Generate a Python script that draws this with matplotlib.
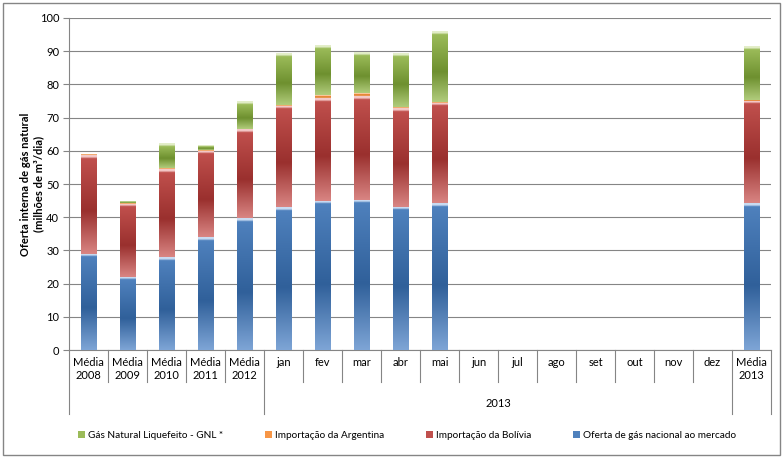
import numpy as np
import matplotlib.pyplot as plt
from matplotlib.colors import LinearSegmentedColormap
from matplotlib.patches import Rectangle, Patch
import matplotlib.transforms as mtransforms

plt.rcParams['font.family'] = ['Lato', 'DejaVu Sans']

# dados (milhões de m3/dia)
categorias = ["Média\n2008", "Média\n2009", "Média\n2010", "Média\n2011", "Média\n2012",
              "jan", "fev", "mar", "abr", "mai", "jun", "jul", "ago", "set", "out", "nov", "dez",
              "Média\n2013"]
nacional = [29.0, 22.0, 28.0, 34.0, 39.7, 43.0, 45.0, 45.2, 43.2, 44.2, 0, 0, 0, 0, 0, 0, 0, 44.2]
bolivia = [29.7, 22.0, 26.5, 26.0, 26.8, 30.5, 31.0, 31.3, 29.8, 30.3, 0, 0, 0, 0, 0, 0, 0, 30.8]
argentina = [0.2, 0.2, 0.2, 0.1, 0.2, 0.3, 0.8, 0.8, 0.3, 0.3, 0, 0, 0, 0, 0, 0, 0, 0.4]
gnl = [0.0, 0.4, 7.3, 1.4, 8.3, 15.5, 14.9, 12.2, 16.2, 21.2, 0, 0, 0, 0, 0, 0, 0, 16.1]

# (base, escuro, medio, topo claro)
series = [
    ("Oferta de gás nacional ao mercado", nacional, ("#7ea5d6", "#30609a", "#4f81bd", "#c9dbf2")),
    ("Importação da Bolívia", bolivia, ("#d98583", "#9a302e", "#c0504d", "#f4c9c8")),
    ("Importação da Argentina", argentina, ("#f9b57a", "#d9782a", "#f79646", "#fde0c4")),
    ("Gás Natural Liquefeito - GNL *", gnl, ("#b1cc7c", "#6e902f", "#9bbb59", "#e3eec9")),
]

fig = plt.figure(figsize=(7.83, 4.58), dpi=100)
ax = fig.add_axes([0.0881, 0.2358, 0.8966, 0.7249])

x = np.arange(len(categorias))
base = np.zeros(len(categorias))
handles = []
grad = np.linspace(0, 1, 256).reshape(-1, 1)
for nome, vals, (baixo, escuro, medio, claro) in series:
    barras = ax.bar(x, vals, 0.40, bottom=base, color=medio, linewidth=0, zorder=2)
    for p in barras.patches:
        h = p.get_height()
        if h <= 0:
            continue
        # faixa clara no topo com espessura fixa (~1 unidade)
        f = min(1.0 / h, 0.3)
        cmap = LinearSegmentedColormap.from_list(
            nome, [(0, baixo), (0.45 * (1 - f), escuro), (1 - f, medio),
                   (1 - f / 2, claro), (1, claro)])
        x0, y0 = p.get_x(), p.get_y()
        ax.imshow(grad, cmap=cmap, aspect='auto', zorder=3, origin='lower',
                  extent=(x0, x0 + p.get_width(), y0, y0 + h))
        p.set_visible(False)
    base = base + np.array(vals)
    handles.append(Patch(facecolor=medio, label=nome))

ax.set_xlim(-0.5, len(categorias) - 0.5)
ax.set_ylim(0, 100)
ax.set_yticks(range(0, 101, 10))
ax.grid(axis='y', color='#858585', linewidth=0.8, zorder=0)
ax.set_axisbelow(True)
for s in ['top', 'right']:
    ax.spines[s].set_visible(False)
ax.spines['left'].set_color('#858585')
ax.spines['bottom'].set_color('#858585')
ax.tick_params(axis='y', labelsize=8, color='#858585', length=4, pad=3)
ax.set_xticks([])
ax.set_ylabel("Oferta interna de gás natural\n(milhões de m³/dia)", fontsize=8,
              fontweight='bold', labelpad=-3)

# eixo x em dois níveis
trans = mtransforms.blended_transform_factory(ax.transData, ax.transAxes)
longas = [-0.5, 4.5, 16.5, 17.5]
for i in range(len(categorias) + 1):
    xs = i - 0.5
    fim = -0.193 if xs in longas else -0.096
    ax.plot([xs, xs], [0, fim], color='#858585', lw=0.8, transform=trans, clip_on=False)
for i, c in enumerate(categorias):
    ax.text(i, -0.02, c, transform=trans, ha='center', va='top', fontsize=8,
            linespacing=1.3)
ax.text(10.5, -0.16, "2013", transform=trans, ha='center', va='center', fontsize=8)

# legenda
ordem = [handles[3], handles[2], handles[1], handles[0]]
fig.legend(handles=ordem, loc='center', bbox_to_anchor=(0.52, 0.05), ncol=4,
           frameon=False, fontsize=7.2, handlelength=0.7, handleheight=0.7,
           handletextpad=0.3, columnspacing=4.2)

fig.patches.append(Rectangle((0.004, 0.007), 0.992, 0.987, transform=fig.transFigure,
                             fill=False, edgecolor='#858585', linewidth=1))

fig.savefig("out.png", dpi=100)
